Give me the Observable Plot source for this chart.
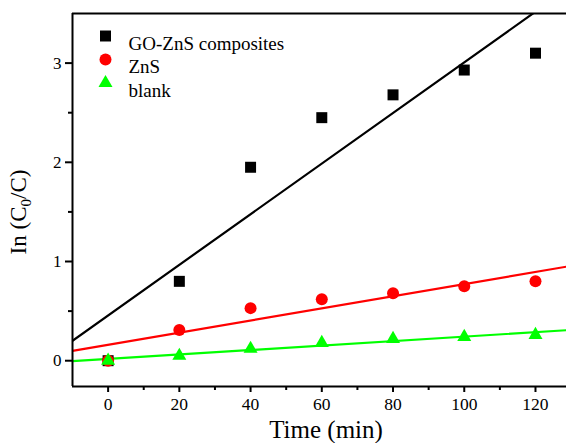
<!DOCTYPE html>
<html><head><meta charset="utf-8">
<script src="https://cdn.jsdelivr.net/npm/d3@7"></script>
<script src="https://cdn.jsdelivr.net/npm/@observablehq/plot@0.6"></script>
<style>body{margin:0;background:#fff} svg{display:block} svg text{font-family:"Liberation Serif",serif}</style>
</head><body><div id="chart"></div>
<script>
const times = [0, 20, 40, 60, 80, 100, 120];
const goZnS = [0, 0.80, 1.95, 2.45, 2.68, 2.93, 3.10];
const zns = [0, 0.31, 0.53, 0.62, 0.68, 0.75, 0.80];
const blank = [0, 0.05, 0.12, 0.18, 0.22, 0.24, 0.26];
const seriesNames = ["GO-ZnS composites", "ZnS", "blank"];
const seriesColors = ["#000000", "#ff0000", "#00ff00"];
const seriesSymbols = ["square", "circle", "triangle"];
const symbolRadius = [6.2, 6, 5.2];
const xTicks = [0, 20, 40, 60, 80, 100, 120];
const xMinor = [10, 30, 50, 70, 90, 110];
const yTicks = [0, 1, 2, 3];
const yMinor = [0.5, 1.5, 2.5];
const xDomain = [-10, 130];
const yDomain = [-0.26, 3.5];
const xLabel = "Time (min)";

const seriesValues = [goZnS, zns, blank];
const points = seriesValues.map((vals, s) => vals.map((v, i) => ({series: seriesNames[s], t: times[i], v})));
function fit(vals) {
  const mx = d3.mean(times), my = d3.mean(vals);
  const sxy = d3.sum(times, (t, i) => (t - mx) * (vals[i] - my));
  const sxx = d3.sum(times, t => (t - mx) ** 2);
  const b = sxy / sxx;
  return {a: my - b * mx, b};
}
const fitLines = seriesValues.flatMap((vals, s) => {
  const {a, b} = fit(vals);
  return xDomain.map(t => ({series: seriesNames[s], t, v: a + b * t}));
});

const legendMarks = seriesNames.flatMap((name, i) => [
  Plot.dot([name], {frameAnchor: "top-left", dx: 33, dy: 22.5 + i * 23.5, symbol: d => d, fill: d => d, r: symbolRadius[i]}),
  Plot.text([name], {frameAnchor: "top-left", dx: 56, dy: 22.5 + i * 23.5, text: d => d, textAnchor: "start", fontSize: 19, fill: "black"})
]);

const chart = Plot.plot({
  width: 566,
  height: 443,
  marginLeft: 72,
  marginTop: 13,
  marginBottom: 57,
  marginRight: -4.6,
  style: {fontFamily: "Liberation Serif", fontSize: "17px", color: "black", background: "white"},
  x: {domain: xDomain, label: null},
  y: {domain: yDomain, label: null},
  color: {domain: seriesNames, range: seriesColors},
  symbol: {domain: seriesNames, range: seriesSymbols},
  marks: [
    Plot.line(fitLines, {x: "t", y: "v", z: "series", stroke: "series", strokeWidth: 2.2, clip: true}),
    ...points.map((pts, i) => Plot.dot(pts, {x: "t", y: "v", symbol: "series", fill: "series", r: symbolRadius[i]})),
    Plot.ruleX([xDomain[0]], {strokeWidth: 2}),
    Plot.ruleY(yDomain, {strokeWidth: 2}),
    Plot.axisY(yTicks, {tickSize: 7, tickPadding: 4, strokeWidth: 2, fontSize: 17, fontFamily: "Liberation Serif", tickFormat: d => String(d), label: null}),
    Plot.axisY(yMinor, {tickSize: 4, strokeWidth: 2, tickFormat: () => "", label: null}),
    Plot.axisX(xTicks, {tickSize: 6, tickPadding: 5, strokeWidth: 2, fontSize: 17.5, fontFamily: "Liberation Serif", tickFormat: d => String(d), label: null}),
    Plot.axisX(xMinor, {tickSize: 4, strokeWidth: 2, tickFormat: () => "", label: null}),
    ...legendMarks
  ]
});
document.getElementById("chart").appendChild(chart);

const svg = d3.select(chart);
const yl = svg.append("text")
  .attr("transform", "translate(26,212) rotate(-90)")
  .attr("text-anchor", "middle")
  .attr("font-size", 23)
  .attr("fill", "black");
yl.append("tspan").text("In (C");
yl.append("tspan").attr("font-size", 15).attr("dy", 5).text("0");
yl.append("tspan").attr("dy", -5).text("/C)");

svg.append("text")
  .attr("transform", "translate(326,438)")
  .attr("text-anchor", "middle")
  .attr("font-size", 25)
  .attr("fill", "black")
  .text(xLabel);
</script>
</body></html>
